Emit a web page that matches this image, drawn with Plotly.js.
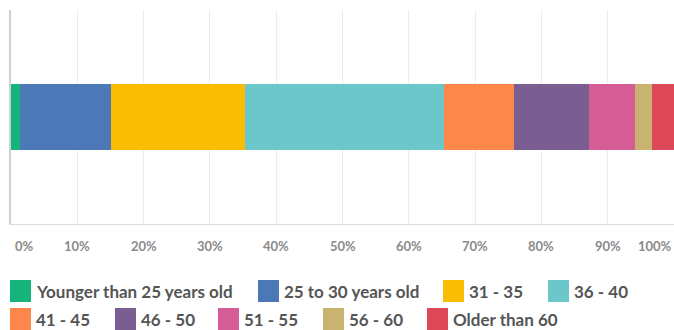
<!DOCTYPE html>
<html><head><meta charset="utf-8">
<script src="https://cdn.plot.ly/plotly-3.0.1.min.js"></script>
<style>html,body{margin:0;padding:0;background:#fff}#chart{width:674px;height:330px}</style>
</head><body><div id="chart"></div>
<script>
const categories = ["Younger than 25 years old","25 to 30 years old","31 - 35","36 - 40","41 - 45","46 - 50","51 - 55","56 - 60","Older than 60"];
const shares = [1.4, 13.7, 20.2, 30.0, 10.5, 11.4, 6.9, 2.6, 3.3];
const colors = ["#14b47a","#4d78b8","#fbbd03","#6cc7cb","#fd874a","#7a5e91","#d65c96","#c8b46f","#dc4858"];
const tickVals = [0,10,20,30,40,50,60,70,80,90,100];
const tickText = ["0%","10%","20%","30%","40%","50%","60%","70%","80%","90%","100%"];

// page geometry (pixels)
const W = 674, H = 330;
const M = {l:11, r:0, t:10, b:106};
const plotW = W - M.l - M.r, plotH = H - M.t - M.b;
const px2x = px => (px - M.l) / plotW;
const py2y = py => (H - M.b - py) / plotH;

// custom legend placement: left edge (px) and row of each entry
const legLeft = [10, 258, 443, 548, 10, 115, 218, 323, 427];
const legRow  = [0, 0, 0, 0, 1, 1, 1, 1, 1];
const rowMid  = [291, 319];

const traces = categories.map((c,i)=>({
  type:'bar', orientation:'h', name:c, x:[shares[i]], y:['Age'],
  marker:{color:colors[i], line:{width:0}}, hoverinfo:'name+x', showlegend:false
}));

const ann = tickVals.map((v,i)=>({
  x:v, xref:'x', y:0, yref:'paper', yanchor:'middle', yshift:-22,
  xanchor: i===0?'left':(i===tickVals.length-1?'right':'center'),
  xshift: i===0?2:0,
  text:tickText[i], showarrow:false,
  font:{family:'Lato, sans-serif', size:13, color:'#8a8a8a', weight:700}
}));

const shapes = [];
categories.forEach((c,i)=>{
  const mid = rowMid[legRow[i]];
  shapes.push({type:'rect', xref:'paper', yref:'paper',
    x0:px2x(legLeft[i]), x1:px2x(legLeft[i]+21),
    y0:py2y(mid-11), y1:py2y(mid+11),
    fillcolor:colors[i], line:{width:0}, layer:'above'});
  ann.push({x:px2x(legLeft[i]+24), xref:'paper', y:py2y(mid), yref:'paper',
    xanchor:'left', yanchor:'middle', text:c, showarrow:false,
    font:{family:'Lato, sans-serif', size:17, color:'#555', weight:700}});
});

const layout = {
  width:W, height:H,
  margin:M,
  barmode:'stack', bargap:0.69,
  paper_bgcolor:'#fff', plot_bgcolor:'#fff',
  showlegend:false,
  xaxis:{range:[0,100], tickvals:tickVals, showticklabels:false, showgrid:true, gridcolor:'#ececec', gridwidth:1, zeroline:false, showline:true, linecolor:'#dcdcdc', linewidth:1, fixedrange:true},
  yaxis:{showticklabels:false, showgrid:false, zeroline:false, showline:true, linecolor:'#cfcfcf', linewidth:2, fixedrange:true},
  annotations: ann,
  shapes: shapes
};
Plotly.newPlot('chart', traces, layout, {displayModeBar:false, staticPlot:true});
</script></body></html>
